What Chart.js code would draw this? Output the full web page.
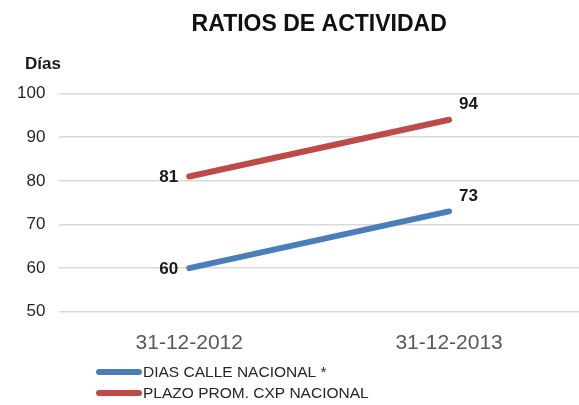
<!DOCTYPE html>
<html><head><meta charset="utf-8">
<script src="https://cdn.jsdelivr.net/npm/chart.js@4.4.1/dist/chart.umd.min.js"></script>
<style>html,body{margin:0;padding:0;background:#fff}#w{width:579px;height:405px}</style>
</head><body><div id="w"><canvas id="c"></canvas></div>
<script>
const categories = ["31-12-2012", "31-12-2013"];
const diasCalle = [60, 73];
const plazoProm = [81, 94];
const seriesNames = ["DIAS CALLE NACIONAL *", "PLAZO PROM. CXP NACIONAL"];
const yTicks = [50, 60, 70, 80, 90, 100];
const colors = ["#4a7ebb", "#be4b48"];
const FONT = "'Liberation Sans', Arial, sans-serif";

const labelPlugin = {
  id: 'labels',
  afterDatasetsDraw(chart) {
    const ctx = chart.ctx;
    ctx.save();
    ctx.font = "bold 17px " + FONT;
    ctx.fillStyle = "#1a1a1a";
    ctx.textBaseline = "middle";
    chart.data.datasets.forEach((ds, i) => {
      const meta = chart.getDatasetMeta(i);
      meta.data.forEach((pt, j) => {
        if (j === 0) {
          ctx.textAlign = "right";
          ctx.fillText(ds.data[j], pt.x - 11, pt.y + 1);
        } else {
          ctx.textAlign = "left";
          ctx.fillText(ds.data[j], pt.x + 10, pt.y - 15);
        }
      });
    });
    // axis title
    ctx.textAlign = "left";
    ctx.font = "bold 17px " + FONT;
    ctx.fillText("Días", 25, 64);
    // legend
    ctx.font = "15.5px " + FONT;
    ctx.fillStyle = "#262626";
    seriesNames.forEach((n, i) => {
      const y = 372 + i * 21;
      ctx.strokeStyle = colors[i];
      ctx.lineWidth = 6;
      ctx.lineCap = "round";
      ctx.beginPath(); ctx.moveTo(99, y); ctx.lineTo(139, y); ctx.stroke();
      ctx.fillText(n, 143, y + 1);
    });
    ctx.restore();
  }
};

new Chart(document.getElementById('c'), {
  type: 'line',
  data: {
    labels: categories,
    datasets: [
      { label: seriesNames[0], data: diasCalle, borderColor: colors[0], borderWidth: 6, pointRadius: 0, borderCapStyle: 'round', tension: 0 },
      { label: seriesNames[1], data: plazoProm, borderColor: colors[1], borderWidth: 6, pointRadius: 0, borderCapStyle: 'round', tension: 0 }
    ]
  },
  options: {
    responsive: true, maintainAspectRatio: false, animation: false,
    layout: { padding: { left: 3, right: 0, top: 0, bottom: 38 } },
    plugins: {
      legend: { display: false },
      tooltip: { enabled: false },
      title: { display: true, text: "RATIOS DE ACTIVIDAD", fullSize: false, color: "#111",
        font: { family: FONT, size: 23, weight: 'bold' }, padding: { top: 11, bottom: 55 } }
    },
    scales: {
      x: { offset: true, grid: { display: false }, border: { display: false },
        ticks: { color: "#595959", font: { family: FONT, size: 21 }, padding: 11 } },
      y: { min: 50, max: 100, afterBuildTicks: s => { s.ticks = yTicks.map(v => ({ value: v })); },
        grid: { color: "#d9d9d9", lineWidth: 1.5, drawTicks: false }, border: { display: false },
        ticks: { color: "#262626", font: { family: FONT, size: 17 }, padding: 14 } }
    }
  },
  plugins: [labelPlugin]
});
</script></body></html>
